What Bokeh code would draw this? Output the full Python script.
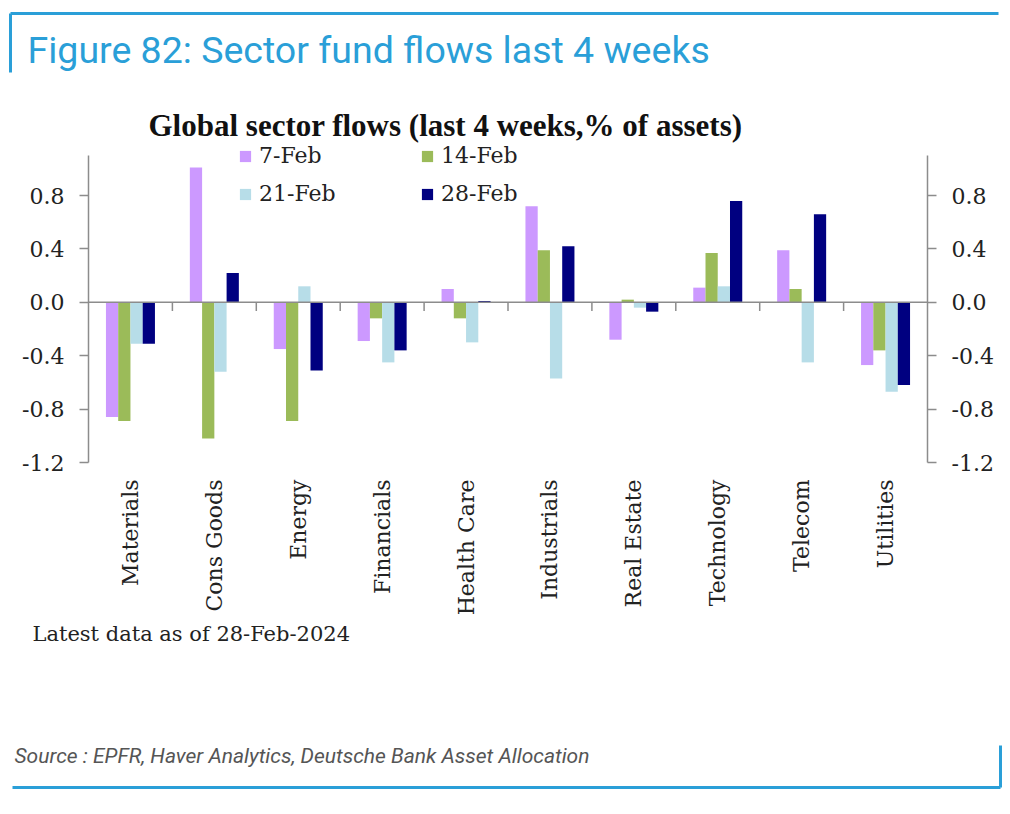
import math
from bokeh.plotting import figure
from bokeh.models import (Range1d, FactorRange, LinearAxis, LinearScale, FixedTicker,
                          NumeralTickFormatter, Legend, LegendItem, ColumnDataSource)
from bokeh.transform import dodge
from bokeh.core.properties import value
from bokeh.embed import file_html
from bokeh.resources import INLINE

# ---------------- data ----------------
sectors = ["Materials", "Cons Goods", "Energy", "Financials", "Health Care",
           "Industrials", "Real Estate", "Technology", "Telecom", "Utilities"]
series_names = ["7-Feb", "14-Feb", "21-Feb", "28-Feb"]
feb07 = [-0.86, 1.01, -0.35, -0.29, 0.10, 0.72, -0.28, 0.11, 0.39, -0.47]
feb14 = [-0.89, -1.02, -0.89, -0.12, -0.12, 0.39, 0.02, 0.37, 0.10, -0.36]
feb21 = [-0.31, -0.52, 0.12, -0.45, -0.30, -0.57, -0.04, 0.12, -0.45, -0.67]
feb28 = [-0.31, 0.22, -0.51, -0.36, 0.01, 0.42, -0.07, 0.76, 0.66, -0.62]
y_ticks = [-1.2, -0.8, -0.4, 0.0, 0.4, 0.8]
y_axis_min, y_axis_max = -1.2, 1.1
colors = ["#cc99ff", "#9bbb59", "#b7dde8", "#000080"]

header_title = "Figure 82: Sector fund flows last 4 weeks"
chart_title = "Global sector flows (last 4 weeks,% of assets)"
note_text = "Latest data as of 28-Feb-2024"
source_text = "Source : EPFR, Haver Analytics, Deutsche Bank Asset Allocation"

BLUE = "#2a9fd8"
SERIF = "DejaVu Serif"
GREY = "#8c8c8c"
INK = "#222222"

# ---------------- layout (page pixels) ----------------
FRAME_L = 8                          # left edge of the drawing frame
PLOT_L, PLOT_R = 88, 927             # chart area left / right edge
W = PLOT_R + (PLOT_L - FRAME_L)      # symmetric padding around the categories
H = 806
PLOT_TOP, PLOT_BOT = 155, 462        # pixel rows of y_axis_max / y_axis_min
px_per_unit = (PLOT_BOT - PLOT_TOP) / (y_axis_max - y_axis_min)
y_lo = y_axis_min - (H - PLOT_BOT) / px_per_unit
y_hi = y_axis_max + PLOT_TOP / px_per_unit
cat_px = (PLOT_R - PLOT_L) / len(sectors)
pad_units = (PLOT_L - FRAME_L) / cat_px


def sx(px):
    """page pixel column -> synthetic category coordinate"""
    return [(v - PLOT_L) / cat_px for v in px]


p = figure(width=W, height=H,
           x_range=FactorRange(*sectors, range_padding=pad_units, range_padding_units="absolute"),
           y_range=Range1d(y_lo, y_hi),
           toolbar_location=None, output_backend="svg",
           min_border=0, min_border_left=FRAME_L)
p.extra_y_ranges = {"py": Range1d(H, 0)}
p.extra_y_scales = {"py": LinearScale()}
p.outline_line_color = None
p.grid.visible = False

# ---------------- bars ----------------
src = ColumnDataSource(dict(sector=sectors, f07=feb07, f14=feb14, f21=feb21, f28=feb28))
w = 0.146
fields = ["f07", "f14", "f21", "f28"]
renderers = []
for i, (f, c) in enumerate(zip(fields, colors)):
    r = p.vbar(x=dodge("sector", (i - 1.5) * w, range=p.x_range), top=f, bottom=0,
               width=w, source=src, fill_color=c, line_color=None)
    renderers.append(r)

# zero line with ticks at category boundaries
zsrc = ColumnDataSource(dict(a=[sectors[0]], b=[sectors[-1]]))
p.segment(x0=dodge("a", -0.5, range=p.x_range), y0=0, x1=dodge("b", 0.5, range=p.x_range), y1=0,
          source=zsrc, line_color=GREY, line_width=1.5)
bsrc = ColumnDataSource(dict(sector=sectors[:-1]))
p.segment(x0=dodge("sector", 0.5, range=p.x_range), y0=0,
          x1=dodge("sector", 0.5, range=p.x_range), y1=-0.065,
          source=bsrc, line_color=GREY, line_width=1.5)

# ---------------- axes ----------------
ax_x = p.xaxis[0]
ax_x.fixed_location = y_axis_min
ax_x.axis_line_color = None
ax_x.major_tick_line_color = None
ax_x.major_tick_out = 0
ax_x.major_label_orientation = math.pi / 2
ax_x.major_label_standoff = 17
ax_x.major_label_text_font = SERIF
ax_x.major_label_text_font_size = "22px"
ax_x.major_label_text_color = INK

yl = p.yaxis[0]
yr = LinearAxis()
p.add_layout(yr, "right")
yl.fixed_location = 0
yr.fixed_location = len(sectors)
for ax in (yl, yr):
    ax.bounds = (y_axis_min, y_axis_max)
    ax.ticker = FixedTicker(ticks=y_ticks)
    ax.formatter = NumeralTickFormatter(format="0.0")
    ax.minor_tick_line_color = None
    ax.major_tick_out = 9
    ax.major_tick_in = 0
    ax.axis_line_color = GREY
    ax.major_tick_line_color = GREY
    ax.axis_line_width = 1.5
    ax.major_tick_line_width = 1.5
    ax.major_label_standoff = 15
    ax.major_label_text_font = SERIF
    ax.major_label_text_font_size = "22px"
    ax.major_label_text_color = INK

# ---------------- legend (2 columns, filled column by column) ----------------
legend_order = [0, 2, 1, 3]
legend = Legend(items=[LegendItem(label=series_names[k], renderers=[renderers[k]]) for k in legend_order],
                ncols=2, location=(230, H - 207), glyph_width=14, glyph_height=14,
                label_standoff=7, label_width=150, label_height=27, spacing=11,
                padding=0, margin=0, border_line_color=None, background_fill_alpha=0,
                label_text_font=SERIF, label_text_font_size="22px", label_text_color=INK)
p.add_layout(legend)

# ---------------- texts and frame lines ----------------
kw = dict(y_range_name="py")
p.segment(x0=sx([10, 10]), y0=[13, 13], x1=sx([998, 10]), y1=[13, 72], line_color=BLUE, line_width=3, **kw)
p.segment(x0=sx([12, 1000]), y0=[787, 745], x1=sx([1000, 1000]), y1=[787, 787],
          line_color=BLUE, line_width=3, **kw)
p.text(x=sx([27]), y=[49], text=[header_title], text_font=value("Roboto"), text_font_size="37.5px",
       text_color=BLUE, text_baseline="middle", text_align="left", **kw)
p.text(x=sx([148]), y=[125], text=[chart_title], text_font=value("Liberation Serif"),
       text_font_size="31px", text_font_style="bold", text_color="#111111",
       text_baseline="middle", text_align="left", **kw)
p.text(x=sx([32]), y=[633], text=[note_text], text_font=value(SERIF), text_font_size="21px",
       text_color=INK, text_baseline="middle", text_align="left", **kw)
p.text(x=sx([14]), y=[755], text=[source_text], text_font=value("Roboto"), text_font_size="21px",
       text_font_style="italic", text_color="#555555", text_baseline="middle",
       text_align="left", **kw)

open("out.html", "w").write(file_html(p, INLINE))
